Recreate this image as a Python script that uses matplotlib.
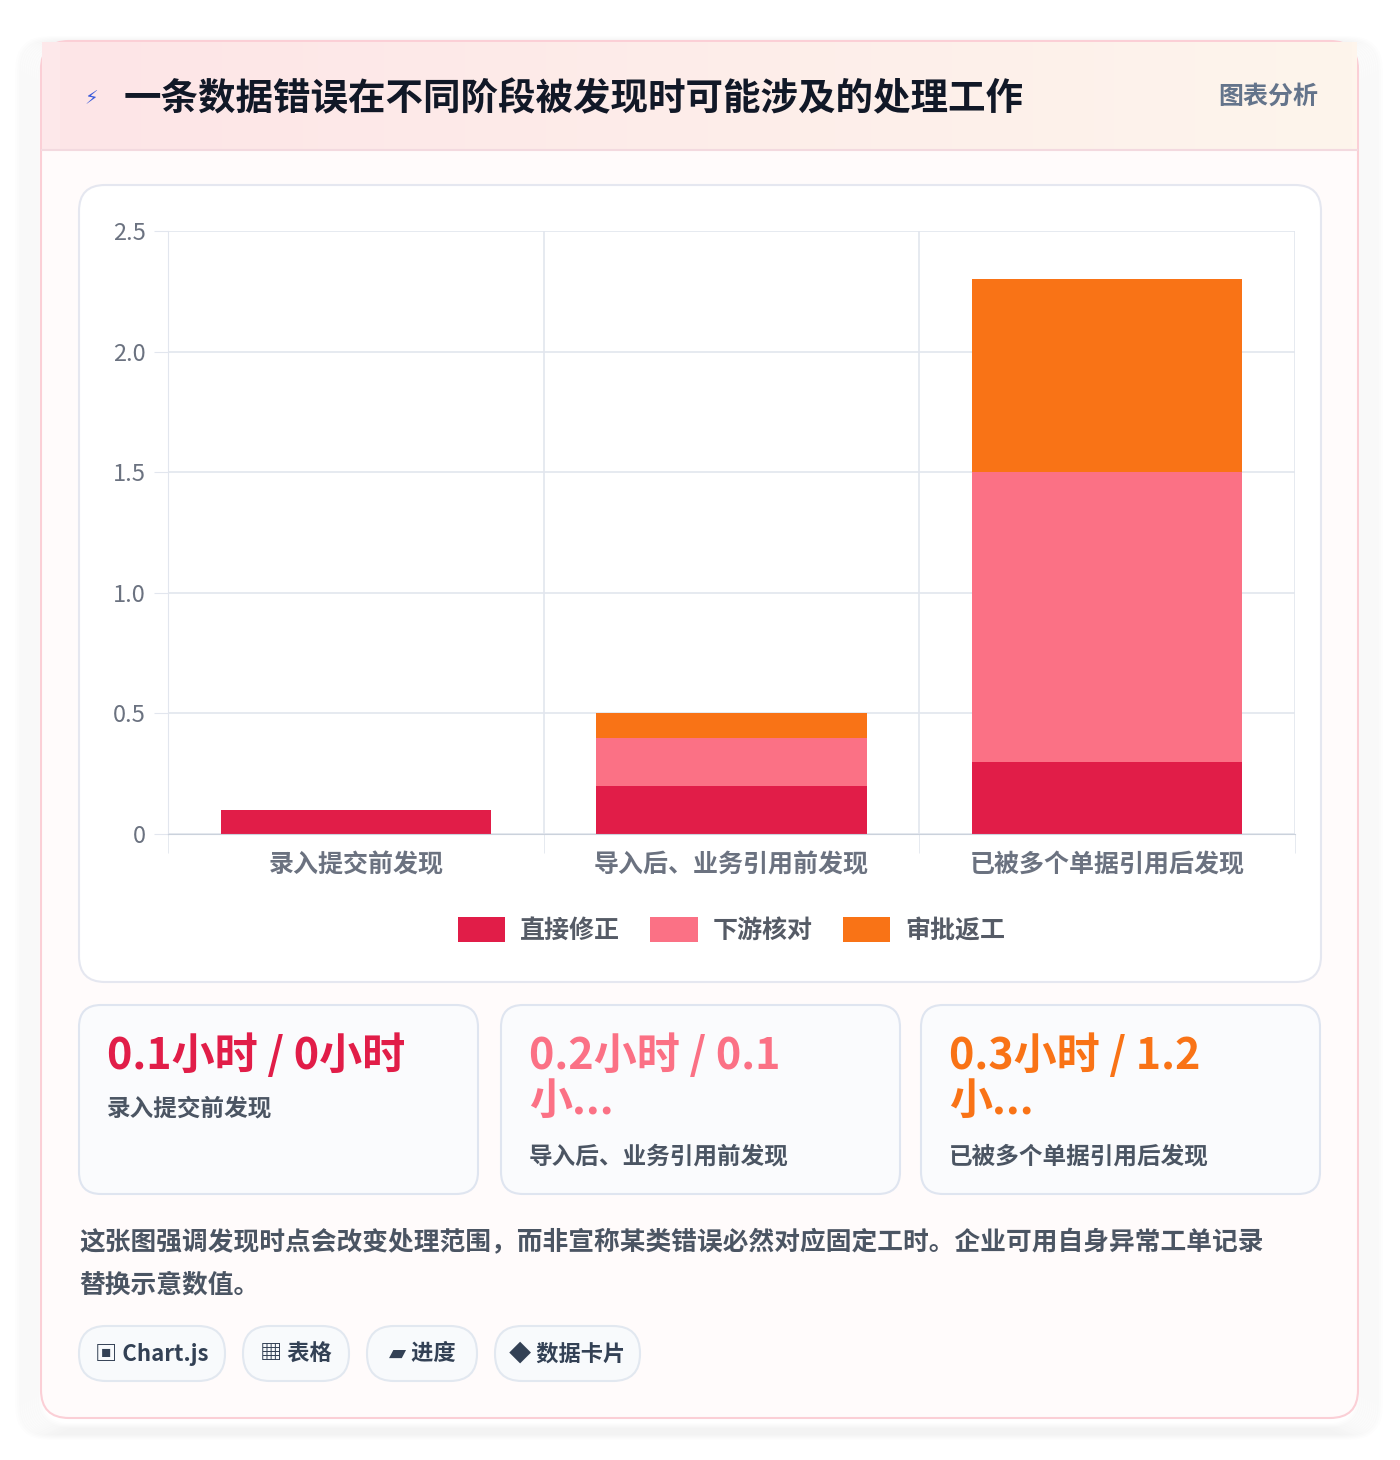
import matplotlib
matplotlib.use("Agg")
import matplotlib.pyplot as plt
from matplotlib.patches import FancyBboxPatch, Rectangle
import numpy as np

plt.rcParams['font.family'] = ['Noto Sans CJK SC', 'DejaVu Sans']

title = "一条数据错误在不同阶段被发现时可能涉及的处理工作"
categories = ["录入提交前发现", "导入后、业务引用前发现", "已被多个单据引用后发现"]
series_names = ["直接修正", "下游核对", "审批返工"]
direct = [0.1, 0.2, 0.3]
downstream = [0.0, 0.2, 1.2]
rework = [0.0, 0.1, 0.8]
colors = ["#e11d48", "#fb7185", "#f97316"]
yticks = [0, 0.5, 1.0, 1.5, 2.0, 2.5]
ytick_labels = ["0", "0.5", "1.0", "1.5", "2.0", "2.5"]
card_values = ["0.1小时 / 0小时", "0.2小时 / 0.1\n小...", "0.3小时 / 1.2\n小..."]
note = "这张图强调发现时点会改变处理范围，而非宣称某类错误必然对应固定工时。企业可用自身异常工单记录\n替换示意数值。"
chips = ["▣ Chart.js", "▦ 表格", "▰ 进度", "◆ 数据卡片"]

W, H = 1400, 1460
fig = plt.figure(figsize=(W/100, H/100), dpi=100)
fig.patch.set_facecolor("white")
bg = fig.add_axes([0, 0, 1, 1])
bg.set_xlim(0, W); bg.set_ylim(H, 0); bg.axis("off")

def rbox(x, y, w, h, r, fc, ec, lw=1.5, z=1):
    bg.add_patch(FancyBboxPatch((x + r, y + r), w - 2*r, h - 2*r,
                                boxstyle=f"round,pad={r}", fc=fc, ec=ec, lw=lw, zorder=z))

# shadow
for i in range(12):
    rbox(40 - i*2, 42 - i + 8, 1318 + i*4, 1376 + i*2, 30, "none", (0, 0, 0, 0.006), lw=4, z=0)
rbox(41, 41, 1317, 1377, 28, "#fffbfb", "#fbcfd6", lw=1.5)
# header
bg.add_patch(Rectangle((42, 42), 1315, 108, fc="#fde8ea", ec="none", zorder=1.5))
grad = np.linspace(0, 1, 256).reshape(1, -1)
from matplotlib.colors import LinearSegmentedColormap
cm = LinearSegmentedColormap.from_list("h", ["#fde5e7", "#fef5ec"])
bg.imshow(grad, extent=[60, 1357, 150, 42], cmap=cm, aspect="auto", zorder=1.6)
bg.plot([42, 1357], [150, 150], color="#f3d9df", lw=1.5, zorder=2)
bg.text(84, 99, "⚡", color="#3b5bdb", fontsize=14, va="center", zorder=3, family=['DejaVu Sans'])
bg.text(124, 99, title, fontsize=27, fontweight="bold", color="#111827", va="center", zorder=3)
bg.text(1318, 97, "图表分析", fontsize=18, fontweight="bold", color="#64748b", va="center", ha="right", zorder=3)

# chart card
rbox(79, 185, 1242, 797, 26, "white", "#e5e7f0", lw=1.5, z=2)

ax = fig.add_axes([168/W, 1 - 834/H, (1295-168)/W, (834-231)/H])
ax.set_zorder(5)
x = np.arange(len(categories))
bw = 0.72
b1 = np.array(direct); b2 = np.array(downstream); b3 = np.array(rework)
ax.bar(x, b1, bw, color=colors[0], label=series_names[0])
ax.bar(x, b2, bw, bottom=b1, color=colors[1], label=series_names[1])
ax.bar(x, b3, bw, bottom=b1 + b2, color=colors[2], label=series_names[2])
ax.set_xlim(-0.5, 2.5); ax.set_ylim(0, 2.5)
ax.set_yticks(yticks); ax.set_yticklabels(ytick_labels, fontsize=17, color="#6b7280")
ax.set_xticks(x); ax.set_xticklabels(categories, fontsize=18, fontweight="bold", color="#6b7280")
ax.set_xticks([-0.5, 0.5, 1.5, 2.5], minor=True)
ax.grid(axis="y", color="#e2e6ee", lw=1.2)
ax.grid(axis="x", which="minor", color="#e2e6ee", lw=1.2)
ax.tick_params(axis="x", which="major", length=0, pad=14)
ax.tick_params(axis="x", which="minor", length=14, color="#e2e6ee")
ax.tick_params(axis="y", length=10, color="#e2e6ee", pad=6)
ax.set_axisbelow(True)
for s in ["top", "right"]:
    ax.spines[s].set_visible(False)
ax.spines["left"].set_color("#e2e6ee"); ax.spines["bottom"].set_color("#cbd2dc")
ax.legend(loc="upper center", bbox_to_anchor=(0.5, -0.1), ncol=3, frameon=False,
          handlelength=1.9, handleheight=1.2, columnspacing=1.2, handletextpad=0.6,
          prop={'size': 18, 'weight': 'bold', 'family': ['Noto Sans CJK SC', 'DejaVu Sans']},
          labelcolor="#555b66")

# metric cards
cards_x = [79, 501, 921]
for i, cx in enumerate(cards_x):
    rbox(cx, 1005, 399, 189, 22, "#fafbfd", "#dfe5f0", lw=1.5, z=2)
    bg.text(cx + 28, 1033, card_values[i], fontsize=31, fontweight="bold", color=colors[i],
            va="top", linespacing=1.05, zorder=3)
    ly = 1108 if i == 0 else 1156
    bg.text(cx + 28, ly, categories[i], fontsize=17, fontweight="bold", color="#4b5563",
            va="center", zorder=3)

bg.text(79, 1264, note, fontsize=18.5, fontweight="bold", color="#4b5563", va="center",
        linespacing=1.75, zorder=3)

chip_x = [79, 243, 367, 495]
chip_w = [146, 106, 110, 145]
for cx, cw, t in zip(chip_x, chip_w, chips):
    rbox(cx, 1326, cw, 55, 27, "#f8fafc", "#e2e8f0", lw=1.5, z=2)
    bg.text(cx + cw/2, 1354, t, fontsize=16, fontweight="bold", color="#334155",
            ha="center", va="center", zorder=3, family=['Noto Sans CJK SC', 'DejaVu Sans'])

fig.savefig("out.png", dpi=100, facecolor="white")
